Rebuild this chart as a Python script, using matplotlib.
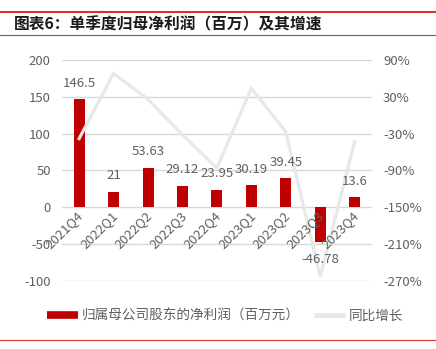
import numpy as np
import matplotlib.pyplot as plt
from matplotlib.lines import Line2D
from matplotlib.transforms import ScaledTranslation

plt.rcParams['font.family'] = ['Noto Sans CJK SC', 'DejaVu Sans']
plt.rcParams['axes.unicode_minus'] = False

quarters = ['2021Q4', '2022Q1', '2022Q2', '2022Q3', '2022Q4',
            '2023Q1', '2023Q2', '2023Q3', '2023Q4']
profit = [146.5, 21, 53.63, 29.12, 23.95, 30.19, 39.45, -46.78, 13.6]
yoy = [-38, 68, 26, -32, -86, 44, -27, -263, -43]

BAR = '#c00000'
LINE = '#e8e8e8'
TXT = '#606060'
GRID = '#d9d9d9'
RED = '#d9332f'

fig = plt.figure(figsize=(4.36, 3.49), dpi=100)
ax = fig.add_axes([0.142, 0.195, 0.711, 0.633])
x = np.arange(len(quarters))

ax.bar(x, profit, width=0.32, color=BAR, zorder=3)
ax.set_ylim(-100, 200)
ax.set_yticks(np.arange(-100, 201, 50))
ax.set_xlim(-0.5, len(quarters) - 0.5)
ax.set_xticks([])
ax.grid(axis='y', color=GRID, lw=1)
ax.set_axisbelow(True)
ax.tick_params(axis='y', length=0, pad=8, labelsize=9.5, labelcolor=TXT)
for s in ax.spines.values():
    s.set_visible(False)

ax2 = ax.twinx()
ax2.plot(x, yoy, color=LINE, lw=2.3, solid_joinstyle='miter')
ax2.set_ylim(-270, 90)
ax2.set_yticks(np.arange(-270, 91, 60))
ax2.set_yticklabels([f'{v}%' for v in np.arange(-270, 91, 60)])
ax2.tick_params(axis='y', length=0, pad=8, labelsize=9.5, labelcolor=TXT)
for s in ax2.spines.values():
    s.set_visible(False)

# category labels along the zero line
off = ScaledTranslation(0.02, -0.06, fig.dpi_scale_trans)
for i, q in enumerate(quarters):
    ax2.text(i, 0, q, transform=ax.transData + off, rotation=45,
             rotation_mode='anchor', ha='right', va='center',
             fontsize=9.5, color=TXT)

# value labels
for i, v in enumerate(profit):
    if v >= 0:
        t = ScaledTranslation(0, 0.16, fig.dpi_scale_trans)
    else:
        t = ScaledTranslation(0, -0.18, fig.dpi_scale_trans)
    ax2.text(i, v, f'{v:g}', transform=ax.transData + t, ha='center',
             va='center', fontsize=9.5, color=TXT)

# title block
fig.add_artist(Line2D([0, 1], [1 - 12 / 349] * 2, color=RED, lw=1.5))
fig.add_artist(Line2D([0, 1], [1 - 35 / 349] * 2, color=RED, lw=0.8))
fig.add_artist(Line2D([0, 1], [1 - 340 / 349] * 2, color=RED, lw=0.8))
fig.text(14 / 436, 1 - 24 / 349, '图表6：单季度归母净利润（百万）及其增速',
         fontsize=11.3, fontweight='bold', color='#1a1a1a', va='center')

handles = [Line2D([], [], color=BAR, lw=5.5, solid_capstyle='butt'),
           Line2D([], [], color=LINE, lw=3.5, solid_capstyle='butt')]
fig.legend(handles, ['归属母公司股东的净利润（百万元）', '同比增长'],
           loc='center', bbox_to_anchor=(0.516, 0.095), ncol=2, frameon=False,
           fontsize=9.8, labelcolor=TXT, handlelength=2.3, handletextpad=0.3,
           columnspacing=1.0)

fig.savefig('out.png', dpi=100)
